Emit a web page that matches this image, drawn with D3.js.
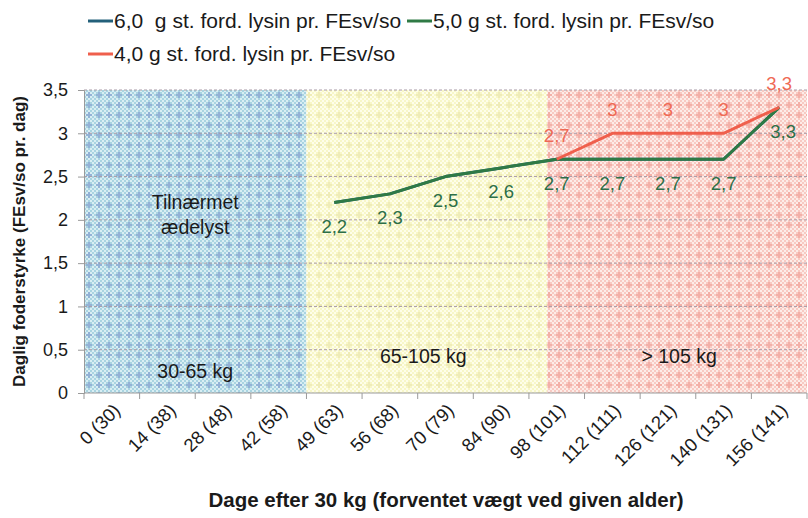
<!DOCTYPE html>
<html>
  <head>
    <meta charset="utf-8">
    <script src="https://d3js.org/d3.v7.min.js"></script>
    <style>
      body { margin: 0; background: #fff; }
      text { font-family: "Liberation Sans", Arial, sans-serif; }
    </style>
  </head>
  <body>
    <script type="text/javascript">
      "use strict";

      // x categories: days after 30 kg (expected weight)
      var categories = ["0 (30)", "14 (38)", "28 (48)", "42 (58)", "49 (63)", "56 (68)",
                        "70 (79)", "84 (90)", "98 (101)", "112 (111)", "126 (121)",
                        "140 (131)", "156 (141)"];

      var seriesNames = ["6,0\u00a0 g st. ford. lysin pr. FEsv/so",
                         "5,0 g st. ford. lysin pr. FEsv/so",
                         "4,0 g st. ford. lysin pr. FEsv/so"];
      var seriesColors = ["#23607a", "#2f7a45", "#ef5f4c"];
      var labelColors = ["#23607a", "#2c6f48", "#ef6a55"];

      // null = no value
      var lys60 = [null, null, null, null, 2.2, 2.3, 2.5, 2.6, 2.7, 2.7, 2.7, 2.7, 3.3];
      var lys50 = [null, null, null, null, 2.2, 2.3, 2.5, 2.6, 2.7, 2.7, 2.7, 2.7, 3.3];
      var lys40 = [null, null, null, null, null, null, null, null, 2.7, 3, 3, 3, 3.3];

      var yTicks = [0, 0.5, 1, 1.5, 2, 2.5, 3, 3.5];

      // background zones, in category units
      var zoneNames = ["blue", "yellow", "red"];
      var zoneStart = [0, 4, 8.33];
      var zoneEnd = [4, 8.33, 13];

      var width = 808, height = 518;
      var mLeft = 84, mRight = 807, mTop = 90, mBottom = 393;

      var svg = d3.select("body").append("svg")
          .attr("width", width)
          .attr("height", height);

      var fmt = d3.formatLocale({decimal: ",", thousands: ".", grouping: [3], currency: ["", ""]}).format;
      var lbl = function (v) { return String(v).replace(".", ","); };

      var x = d3.scaleBand().domain(categories).range([mLeft, mRight]).padding(0);
      var xu = d3.scaleLinear().domain([0, categories.length]).range([mLeft, mRight]);
      var y = d3.scaleLinear().domain([0, 3.5]).range([mBottom, mTop]);

      /*
        patterns for the zones
      */
      var pal = {
        blue:   {base: "#d8eef3", chk: "#a9d4e1", plus: "#93b2d6"},
        yellow: {base: "#fefeea", chk: "#f8f7c8", plus: "#efecb8"},
        red:    {base: "#fdece8", chk: "#f8cac3", plus: "#f3b0a8"}
      };
      var defs = svg.append("defs");
      zoneNames.forEach(function (z) {
        var c = pal[z];
        var p = defs.append("pattern").attr("id", "chk-" + z)
            .attr("patternUnits", "userSpaceOnUse").attr("width", 4).attr("height", 4);
        p.append("rect").attr("width", 4).attr("height", 4).attr("fill", c.base);
        p.append("rect").attr("width", 2).attr("height", 2).attr("fill", c.chk);
        p.append("rect").attr("x", 2).attr("y", 2).attr("width", 2).attr("height", 2).attr("fill", c.chk);
        var q = defs.append("pattern").attr("id", "plus-" + z)
            .attr("patternUnits", "userSpaceOnUse").attr("width", 10).attr("height", 10)
            .attr("x", mLeft).attr("y", mTop);
        q.append("rect").attr("x", 4).attr("y", 2).attr("width", 2).attr("height", 6).attr("fill", c.plus);
        q.append("rect").attr("x", 2).attr("y", 4).attr("width", 6).attr("height", 2).attr("fill", c.plus);
      });

      zoneNames.forEach(function (z, i) {
        ["chk-", "plus-"].forEach(function (k) {
          svg.append("rect")
            .attr("x", xu(zoneStart[i]))
            .attr("y", y(3.5))
            .attr("width", xu(zoneEnd[i]) - xu(zoneStart[i]))
            .attr("height", y(0) - y(3.5))
            .attr("fill", "url(#" + k + z + ")");
        });
      });

      // grid lines
      svg.append("g").selectAll("line").data(yTicks.filter(function (d) { return d > 0; }))
        .enter().append("line")
          .attr("x1", mLeft).attr("x2", mRight)
          .attr("y1", function (d) { return y(d); })
          .attr("y2", function (d) { return y(d); })
          .attr("stroke", "#a89aa6")
          .attr("stroke-width", 1)
          .attr("stroke-dasharray", "3,2");

      // y axis
      var yAxis = svg.append("g")
          .attr("transform", "translate(" + mLeft + ",0)")
          .call(d3.axisLeft(y).tickValues(yTicks).tickSize(6).tickPadding(10).tickFormat(fmt(",.1~f")));
      yAxis.select(".domain").attr("stroke", "#9a9a9a");
      yAxis.selectAll(".tick line").attr("stroke", "#9a9a9a");
      yAxis.selectAll("text").attr("font-size", 18).attr("fill", "#1a1a1a")
          .style("font-family", "Liberation Sans, Arial, sans-serif");

      // x axis
      var xAxis = svg.append("g").attr("transform", "translate(0," + mBottom + ")");
      xAxis.append("line").attr("x1", mLeft).attr("x2", mRight)
          .attr("stroke", "#9a9a9a");
      xAxis.selectAll("line.tk").data(d3.range(categories.length + 1)).enter()
        .append("line").attr("class", "tk")
          .attr("x1", function (d) { return xu(d); })
          .attr("x2", function (d) { return xu(d); })
          .attr("y1", 0).attr("y2", 6)
          .attr("stroke", "#9a9a9a");
      xAxis.selectAll("text").data(categories).enter()
        .append("text")
          .attr("transform", function (d) {
            return "translate(" + (x(d) + x.bandwidth() / 2 + 5) + ",14) rotate(-45)";
          })
          .attr("text-anchor", "end")
          .attr("dy", "0.35em")
          .attr("font-size", 18.5)
          .attr("fill", "#1a1a1a")
          .text(function (d) { return d; });

      // lines
      var allSeries = [lys60, lys50, lys40];
      var line = d3.line()
          .defined(function (d) { return d.v !== null; })
          .x(function (d) { return x(d.c) + x.bandwidth() / 2; })
          .y(function (d) { return y(d.v); });

      allSeries.forEach(function (s, i) {
        var pts = categories.map(function (c, j) { return {c: c, v: s[j]}; });
        svg.append("path")
          .datum(pts)
          .attr("fill", "none")
          .attr("stroke", seriesColors[i])
          .attr("stroke-width", 3)
          .attr("stroke-linejoin", "round")
          .attr("d", line);
      });

      // data labels: green below, red above
      var labelSets = [
        {s: lys50, col: labelColors[1], dy: 24},
        {s: lys40, col: labelColors[2], dy: -24}
      ];
      labelSets.forEach(function (ls) {
        categories.forEach(function (c, j) {
          if (ls.s[j] === null) return;
          svg.append("text")
            .attr("x", x(c) + x.bandwidth() / 2 + (j === 12 && ls.dy > 0 ? 4 : 0))
            .attr("y", y(ls.s[j]) + ls.dy)
            .attr("dy", "0.35em")
            .attr("text-anchor", "middle")
            .attr("font-size", 18.5)
            .attr("fill", ls.col)
            .text(lbl(ls.s[j]));
        });
      });

      // zone texts
      var zoneText = [
        {t: ["Tilnærmet", "ædelyst"], cx: 2, v: 2.2},
        {t: ["30-65 kg"], cx: 2, v: 0.25},
        {t: ["65-105 kg"], cx: 6.1, v: 0.42},
        {t: ["> 105 kg"], cx: 10.7, v: 0.42}
      ];
      zoneText.forEach(function (z) {
        var g = svg.append("text")
          .attr("text-anchor", "middle")
          .attr("font-size", 19.5)
          .attr("fill", "#1a1a1a");
        z.t.forEach(function (s, k) {
          g.append("tspan")
            .attr("x", xu(z.cx))
            .attr("y", y(z.v) + k * 25)
            .attr("dy", "0.35em")
            .text(s);
        });
      });

      // axis titles
      svg.append("text")
        .attr("transform", "translate(19," + ((mTop + mBottom) / 2) + ") rotate(-90)")
        .attr("text-anchor", "middle")
        .attr("dy", "0.35em")
        .attr("font-size", 17)
        .attr("font-weight", "bold")
        .attr("fill", "#1a1a1a")
        .text("Daglig foderstyrke (FEsv/so pr. dag)");

      svg.append("text")
        .attr("x", 446)
        .attr("y", 500)
        .attr("dy", "0.35em")
        .attr("text-anchor", "middle")
        .attr("font-size", 20.5)
        .attr("font-weight", "bold")
        .attr("fill", "#1a1a1a")
        .text("Dage efter 30 kg (forventet vægt ved given alder)");

      // legend
      var legendPos = [[88, 21], [407, 21], [88, 54]];
      seriesNames.forEach(function (n, i) {
        var g = svg.append("g").attr("transform", "translate(" + legendPos[i][0] + "," + legendPos[i][1] + ")");
        g.append("line").attr("x1", 0).attr("x2", 25).attr("stroke", seriesColors[i]).attr("stroke-width", 3);
        g.append("text").attr("x", 26).attr("dy", "0.35em")
          .attr("font-size", 21).attr("fill", "#1a1a1a")
          .text(n);
      });
    </script>
  </body>
</html>
